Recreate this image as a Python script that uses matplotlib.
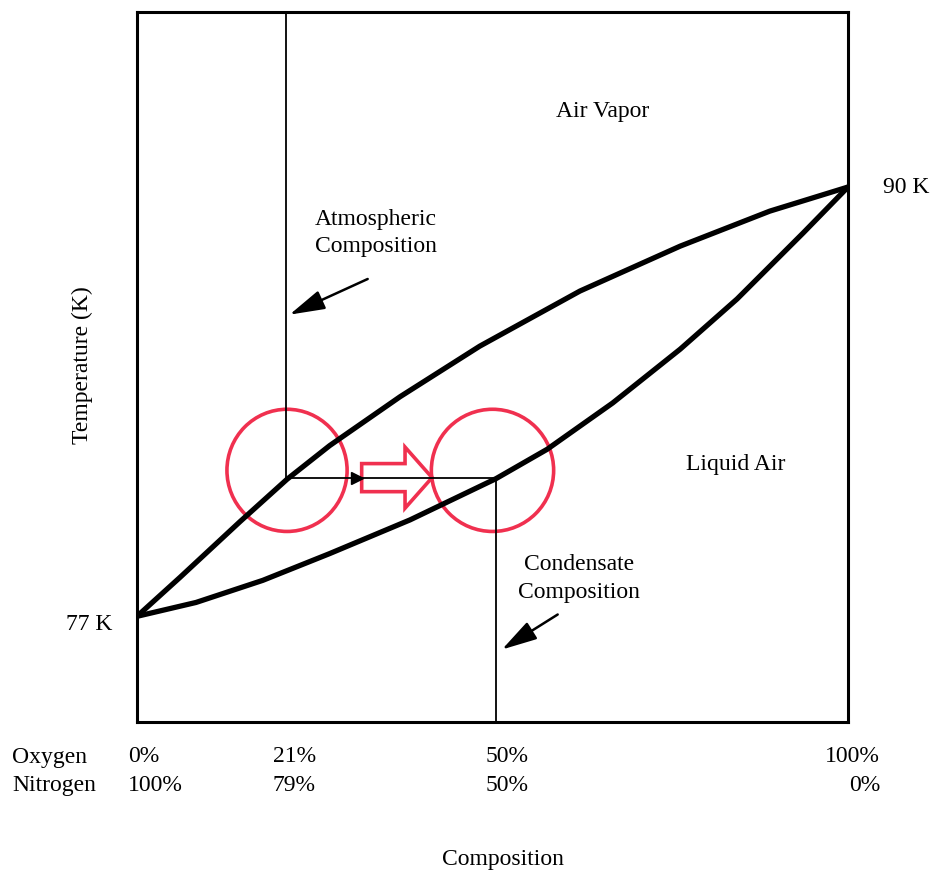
import matplotlib.pyplot as plt
from matplotlib.patches import Ellipse, FancyArrow

plt.rcParams['font.family'] = ['Liberation Serif', 'DejaVu Serif']

# Vapor (dew) line: oxygen % vs temperature K
vapor_x = [0, 6.05, 14.5, 21.1, 27.1, 37.0, 48.2, 62.3, 76.4, 89.0, 100]
vapor_t = [77, 78.18, 79.87, 81.15, 82.17, 83.65, 85.18, 86.85, 88.21, 89.27, 90]

# Liquid (bubble) line
liquid_x = [0, 8.3, 17.7, 27.1, 38.4, 50.5, 57.7, 66.9, 76.4, 84.4, 93.7, 100]
liquid_t = [77, 77.42, 78.09, 78.90, 79.92, 81.17, 82.06, 83.46, 85.09, 86.61, 88.61, 90]

atm_o2 = 21.0
cond_o2 = 50.5
t_split = 81.2

oxygen_labels = ['0%', '21%', '50%', '100%']
nitrogen_labels = ['100%', '79%', '50%', '0%']
label_x = [-1.3, 22.1, 52.0, 104.5]
label_ha = ['left', 'center', 'center', 'right']

fig = plt.figure(figsize=(9.36, 8.76), dpi=100)
ax = fig.add_axes([137 / 936, 1 - 722 / 876, 711 / 936, 710 / 876])
ax.set_xlim(0, 100)
ax.set_ylim(73.8, 95.3)
ax.set_xticks([])
ax.set_yticks([])
for s in ax.spines.values():
    s.set_linewidth(2.2)

ax.plot(vapor_x, vapor_t, color='black', lw=3.8, solid_capstyle='round', solid_joinstyle='round')
ax.plot(liquid_x, liquid_t, color='black', lw=3.8, solid_capstyle='round', solid_joinstyle='round')

# composition lines
ax.plot([atm_o2, atm_o2], [95.3, t_split], color='black', lw=1.3)
ax.plot([atm_o2, cond_o2], [t_split, t_split], color='black', lw=1.3)
ax.plot([cond_o2, cond_o2], [t_split, 73.8], color='black', lw=1.3)
ax.plot([30.9], [t_split], marker='>', color='black', ms=8)

fs = 17
ax.text(65.5, 92.3, 'Air Vapor', ha='center', va='center', fontsize=fs)
ax.text(33.6, 88.6, 'Atmospheric\nComposition', ha='center', va='center', fontsize=fs, linespacing=1.4)
ax.text(84.2, 81.6, 'Liquid Air', ha='center', va='center', fontsize=fs)
ax.text(62.2, 78.15, 'Condensate\nComposition', ha='center', va='center', fontsize=fs, linespacing=1.4)
ax.text(104.9, 90.0, '90 K', ha='left', va='center', fontsize=fs, clip_on=False)
ax.text(-3.4, 76.75, '77 K', ha='right', va='center', fontsize=fs, clip_on=False)

arrow_props = dict(arrowstyle='-|>,head_length=0.9,head_width=0.25', color='black', lw=1.8, mutation_scale=24)
ax.annotate('', xy=(21.1, 86.1), xytext=(32.8, 87.25), arrowprops=arrow_props)
ax.annotate('', xy=(51.0, 75.95), xytext=(59.5, 77.1), arrowprops=arrow_props)

# red highlight marks
red = '#f0304f'
ax.add_patch(Ellipse((21.1, 81.42), 16.9, 3.7, fill=False, edgecolor=red, lw=2.6))
ax.add_patch(Ellipse((50.0, 81.42), 17.2, 3.7, fill=False, edgecolor=red, lw=2.6))
ax.add_patch(FancyArrow(31.6, 81.2, 9.9, 0, width=0.85, head_width=1.85, head_length=3.8,
                        length_includes_head=True, facecolor='white', edgecolor=red, lw=2.6))

# composition tick labels
for x, o, n, ha in zip(label_x, oxygen_labels, nitrogen_labels, label_ha):
    ax.text(x, -0.049, o, transform=ax.get_xaxis_transform(), ha=ha, va='center', fontsize=fs, clip_on=False)
    ax.text(x, -0.089, n, transform=ax.get_xaxis_transform(), ha=ha, va='center', fontsize=fs, clip_on=False)
fig.text(12 / 936, 1 - 757 / 876, 'Oxygen', ha='left', va='center', fontsize=fs)
fig.text(12 / 936, 1 - 785 / 876, 'Nitrogen', ha='left', va='center', fontsize=fs)

fig.text(503 / 936, 1 - 860 / 876, 'Composition', ha='center', va='center', fontsize=fs)
fig.text(82 / 936, 1 - 365 / 876, 'Temperature (K)', ha='center', va='center', rotation=90, fontsize=fs)

fig.savefig('out.png', dpi=100)
